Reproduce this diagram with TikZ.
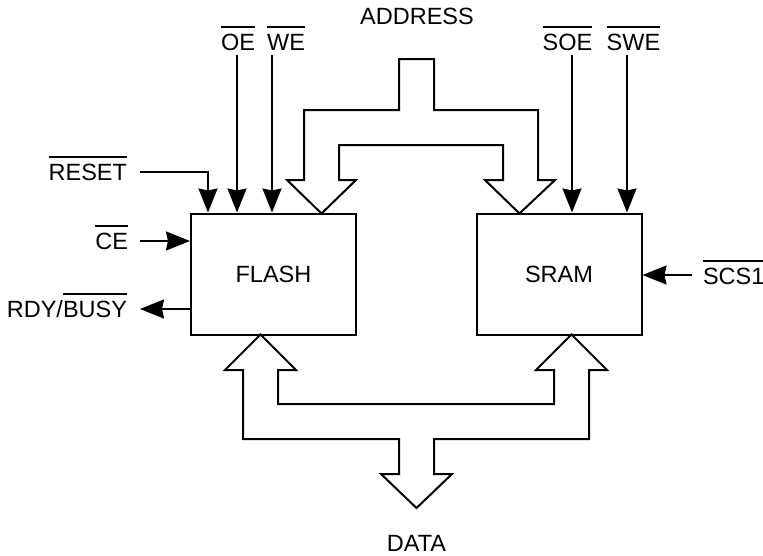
\documentclass[tikz,border=0pt]{standalone}
\usepackage{fontspec}
\setmainfont{Liberation Sans}
\usetikzlibrary{arrows.meta}

% active-low signal name: bar over the text
\newcommand{\ovl}[1]{\setbox0\hbox{#1}\rlap{\raisebox{\dimexpr\ht0+6pt\relax}{\rule{\wd0}{1.4pt}}}\box0}

\begin{document}
\begin{tikzpicture}[
  x=1pt,
  y=-1pt,
  line width=2pt,
  line join=miter,
  every node/.style={font=\fontsize{23.5}{28}\selectfont},
  block/.style={draw, minimum width=165pt, minimum height=121pt, inner sep=0pt},
  lbl/.style={inner sep=0pt},
  sig/.style={-{Stealth[length=24pt,width=19pt,inset=2pt]}}
]

\useasboundingbox (0,0) rectangle (763,555);

% ---------- blocks ----------
\node[block] (flash) at (273.5,274) {FLASH};
\node[block] (sram)  at (559,274)   {SRAM};

% ---------- top control lines ----------
\foreach \n/\t/\lx/\ax/\b in {
  oe/OE/238/237/flash,
  we/WE/286/272/flash,
  soe/SOE/567.5/572/sram,
  swe/SWE/633.5/627/sram}{
  \node[lbl, anchor=base] (\n) at (\lx,50) {\ovl{\t}};
  \coordinate (\n-in) at (\ax,55);
  \draw[sig] (\n-in) -- (\n-in |- \b.north);
}

% ---------- side control lines ----------
\node[lbl, anchor=base east] (reset) at (128,180) {\ovl{RESET}};
\coordinate (reset-in) at (140,172);
\draw[sig] (reset-in) -| ([xshift=18pt]flash.north west);

\node[lbl, anchor=base east] (ce) at (129,249) {\ovl{CE}};
\coordinate (ce-in) at (140,241);
\draw[sig] (ce-in) -- (ce-in -| flash.west);

\node[lbl, anchor=base east] (rdy) at (128,317) {RDY/\ovl{BUSY}};
\coordinate (rdy-out) at (140,309);
\draw[sig] (rdy-out -| flash.west) -- (rdy-out);

\node[lbl, anchor=base west] (scs) at (702,284) {\ovl{SCS1}};
\coordinate (scs-in) at (692,275);
\draw[sig] (scs-in) -- (scs-in -| sram.east);

% ---------- address bus ----------
\node[lbl, anchor=base] (addr) at (417,24) {ADDRESS};
\draw (399,59) -- (434,59) -- (434,110) -- (538,110) -- (538,180)
  -- (555,180) -- (519.5,213.5) -- (485,180) -- (503,180) -- (503,145)
  -- (339,145) -- (339,180) -- (356,180) -- (321.5,213.5) -- (287,180)
  -- (304,180) -- (304,110) -- (399,110) -- cycle;

% ---------- data bus ----------
\node[lbl, anchor=base] (data) at (416.5,551) {DATA};
\draw (416.5,508) -- (452,474) -- (434,474) -- (434,439) -- (589,439)
  -- (589,370) -- (607,370) -- (571.5,334.5) -- (536,370) -- (554,370)
  -- (554,404) -- (278,404) -- (278,370) -- (296,370) -- (260.5,334.5)
  -- (225,370) -- (243,370) -- (243,439) -- (399,439) -- (399,474)
  -- (381,474) -- cycle;

\end{tikzpicture}
\end{document}
